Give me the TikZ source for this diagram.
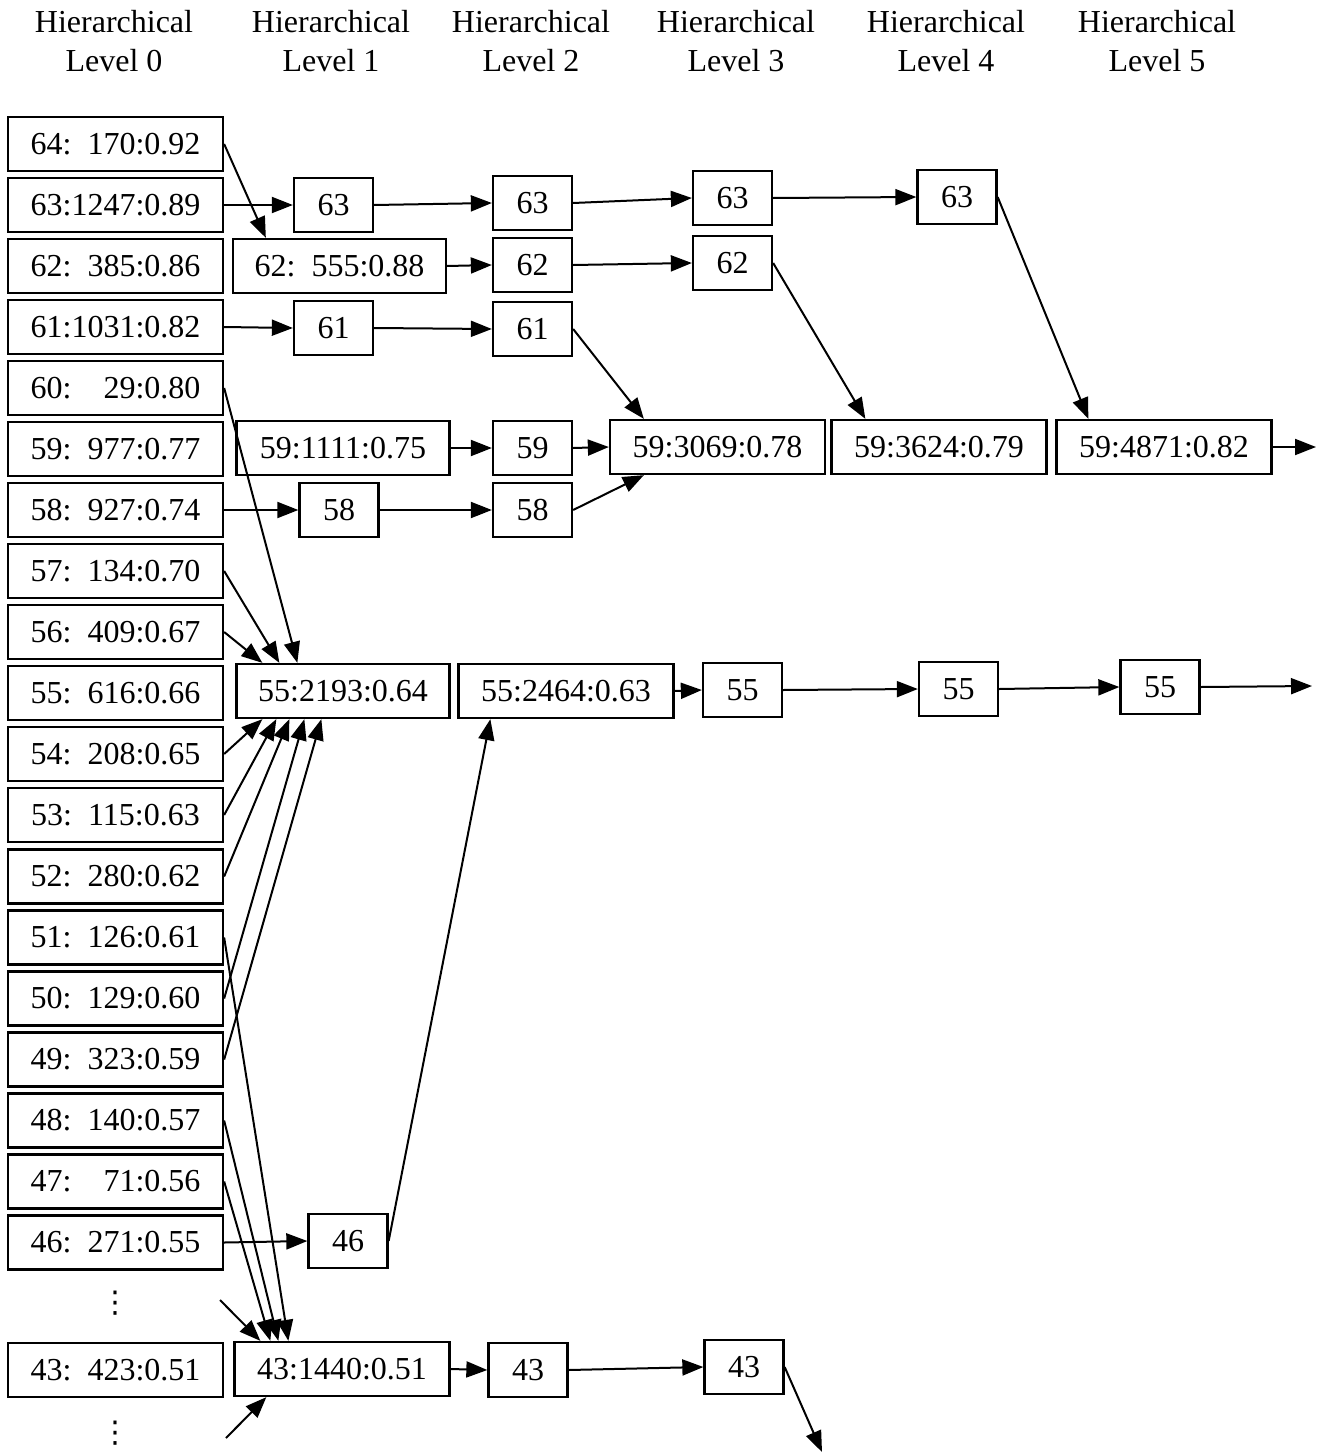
\documentclass[tikz,border=0pt]{standalone}
\usepackage{fontspec}
\setmainfont{Liberation Serif}
\newfontfamily\dvsans{DejaVu Sans}
\usetikzlibrary{arrows.meta}
\begin{document}
\begin{tikzpicture}[x=1pt,y=-1pt,
  box/.style={draw, line width=2.3pt, minimum height=54pt, inner sep=0pt, font=\fontsize{32}{38}\selectfont},
  wbox/.style={box, minimum width=215pt},
  sbox/.style={box, minimum width=79pt},
  hdr/.style={align=center, inner sep=0pt, font=\fontsize{32}{39}\selectfont},
  arr/.style={line width=2pt, -{Triangle[length=21pt,width=16pt]}},
  dotsnode/.style={inner sep=0pt, font=\dvsans\fontsize{30}{36}\selectfont}]
\useasboundingbox (0,0) rectangle (1324,1453);
% headers
\node[hdr] (h0) at (114,41) {Hierarchical\\Level 0};
\node[hdr] (h1) at (331,41) {Hierarchical\\Level 1};
\node[hdr] (h2) at (531,41) {Hierarchical\\Level 2};
\node[hdr] (h3) at (736,41) {Hierarchical\\Level 3};
\node[hdr] (h4) at (946,41) {Hierarchical\\Level 4};
\node[hdr] (h5) at (1157,41) {Hierarchical\\Level 5};
% level 0
\node[wbox] (a64) at (115.5,144) {64:\enspace170:0.92};
\node[wbox] (a63) at (115.5,205) {63:1247:0.89};
\node[wbox] (a62) at (115.5,266) {62:\enspace385:0.86};
\node[wbox] (a61) at (115.5,327) {61:1031:0.82};
\node[wbox] (a60) at (115.5,388) {60:\quad29:0.80};
\node[wbox] (a59) at (115.5,449) {59:\enspace977:0.77};
\node[wbox] (a58) at (115.5,510) {58:\enspace927:0.74};
\node[wbox] (a57) at (115.5,571) {57:\enspace134:0.70};
\node[wbox] (a56) at (115.5,632) {56:\enspace409:0.67};
\node[wbox] (a55) at (115.5,693) {55:\enspace616:0.66};
\node[wbox] (a54) at (115.5,754) {54:\enspace208:0.65};
\node[wbox] (a53) at (115.5,815) {53:\enspace115:0.63};
\node[wbox] (a52) at (115.5,876.5) {52:\enspace280:0.62};
\node[wbox] (a51) at (115.5,937.5) {51:\enspace126:0.61};
\node[wbox] (a50) at (115.5,998.5) {50:\enspace129:0.60};
\node[wbox] (a49) at (115.5,1059.5) {49:\enspace323:0.59};
\node[wbox] (a48) at (115.5,1120.5) {48:\enspace140:0.57};
\node[wbox] (a47) at (115.5,1181.5) {47:\quad71:0.56};
\node[wbox] (a46) at (115.5,1242.5) {46:\enspace271:0.55};
\node[wbox] (a43) at (115.5,1370) {43:\enspace423:0.51};
\node[dotsnode] (dots1) at (115,1303) {⋮};
\node[dotsnode] (dots2) at (115,1433) {⋮};
% level 1
\node[sbox] (b63) at (333.5,205) {63};
\node[wbox, minimum width=213pt] (b62) at (339.5,266) {62:\enspace555:0.88};
\node[sbox] (b61) at (333.5,328) {61};
\node[wbox, minimum width=213pt] (b59) at (343,448) {59:1111:0.75};
\node[sbox] (b58) at (339,510) {58};
\node[wbox, minimum width=213pt] (b55) at (343,691) {55:2193:0.64};
\node[sbox] (b46) at (348,1241) {46};
\node[wbox] (b43) at (342,1369) {43:1440:0.51};
% level 2
\node[sbox] (c63) at (532.5,203) {63};
\node[sbox] (c62) at (532.5,265) {62};
\node[sbox] (c61) at (532.5,329) {61};
\node[sbox] (c59) at (532.5,448) {59};
\node[sbox] (c58) at (532.5,510) {58};
\node[wbox] (c55) at (566,691) {55:2464:0.63};
\node[sbox] (c43) at (528,1370) {43};
% level 3
\node[sbox] (d63) at (732.5,198) {63};
\node[sbox] (d62) at (732.5,263) {62};
\node[wbox] (d59) at (717.5,447) {59:3069:0.78};
\node[sbox] (d55) at (742.5,690) {55};
\node[sbox] (d43) at (744,1367) {43};
% level 4
\node[sbox] (e63) at (957,197) {63};
\node[wbox] (e59) at (939,447) {59:3624:0.79};
\node[sbox] (e55) at (958.5,689) {55};
% level 5
\node[wbox] (f59) at (1164,447) {59:4871:0.82};
\node[sbox] (f55) at (1160,687) {55};
% free ends
\coordinate (out59) at (1316,447);
\coordinate (out55) at (1312,686);
\coordinate (out43) at (822,1452);
\coordinate (in43a) at (220,1300);
\coordinate (in43b) at (226,1438);
% connectors
\draw[arr] (a64.east) -- ([xshift=34pt]b62.north west);
\draw[arr] (a63.east) -- (b63.west);
\draw[arr] (b63.east) -- (c63.west);
\draw[arr] (c63.east) -- (d63.west);
\draw[arr] (d63.east) -- (e63.west);
\draw[arr] (e63.east) -- ([xshift=33pt]f59.north west);
\draw[arr] (b62.east) -- (c62.west);
\draw[arr] (c62.east) -- (d62.west);
\draw[arr] (d62.east) -- ([xshift=35pt]e59.north west);
\draw[arr] (a61.east) -- (b61.west);
\draw[arr] (b61.east) -- (c61.west);
\draw[arr] (c61.east) -- ([xshift=35pt]d59.north west);
\draw[arr] (a60.east) -- ([xshift=62pt]b55.north west);
\draw[arr] (b59.east) -- (c59.west);
\draw[arr] (c59.east) -- (d59.west);
\draw[arr] (f59.east) -- (out59);
\draw[arr] (a58.east) -- (b58.west);
\draw[arr] (b58.east) -- (c58.west);
\draw[arr] (c58.east) -- ([xshift=35pt]d59.south west);
\draw[arr] (a57.east) -- ([xshift=44pt]b55.north west);
\draw[arr] (a56.east) -- ([xshift=27pt]b55.north west);
\draw[arr] (c55.east) -- (d55.west);
\draw[arr] (d55.east) -- (e55.west);
\draw[arr] (e55.east) -- (f55.west);
\draw[arr] (f55.east) -- (out55);
\draw[arr] (a54.east) -- ([xshift=27pt]b55.south west);
\draw[arr] (a53.east) -- ([xshift=41pt]b55.south west);
\draw[arr] (a52.east) -- ([xshift=54pt]b55.south west);
\draw[arr] (a50.east) -- ([xshift=69pt]b55.south west);
\draw[arr] (a49.east) -- ([xshift=86pt]b55.south west);
\draw[arr] (a51.east) -- ([xshift=55pt]b43.north west);
\draw[arr] (a48.east) -- ([xshift=45pt]b43.north west);
\draw[arr] (a47.east) -- ([xshift=37pt]b43.north west);
\draw[arr] (in43a) -- ([xshift=27pt]b43.north west);
\draw[arr] (in43b) -- ([xshift=33pt]b43.south west);
\draw[arr] (a46.east) -- (b46.west);
\draw[arr] (b46.east) -- ([xshift=33pt]c55.south west);
\draw[arr] (b43.east) -- (c43.west);
\draw[arr] (c43.east) -- (d43.west);
\draw[arr] (d43.east) -- (out43);
\end{tikzpicture}
\end{document}
